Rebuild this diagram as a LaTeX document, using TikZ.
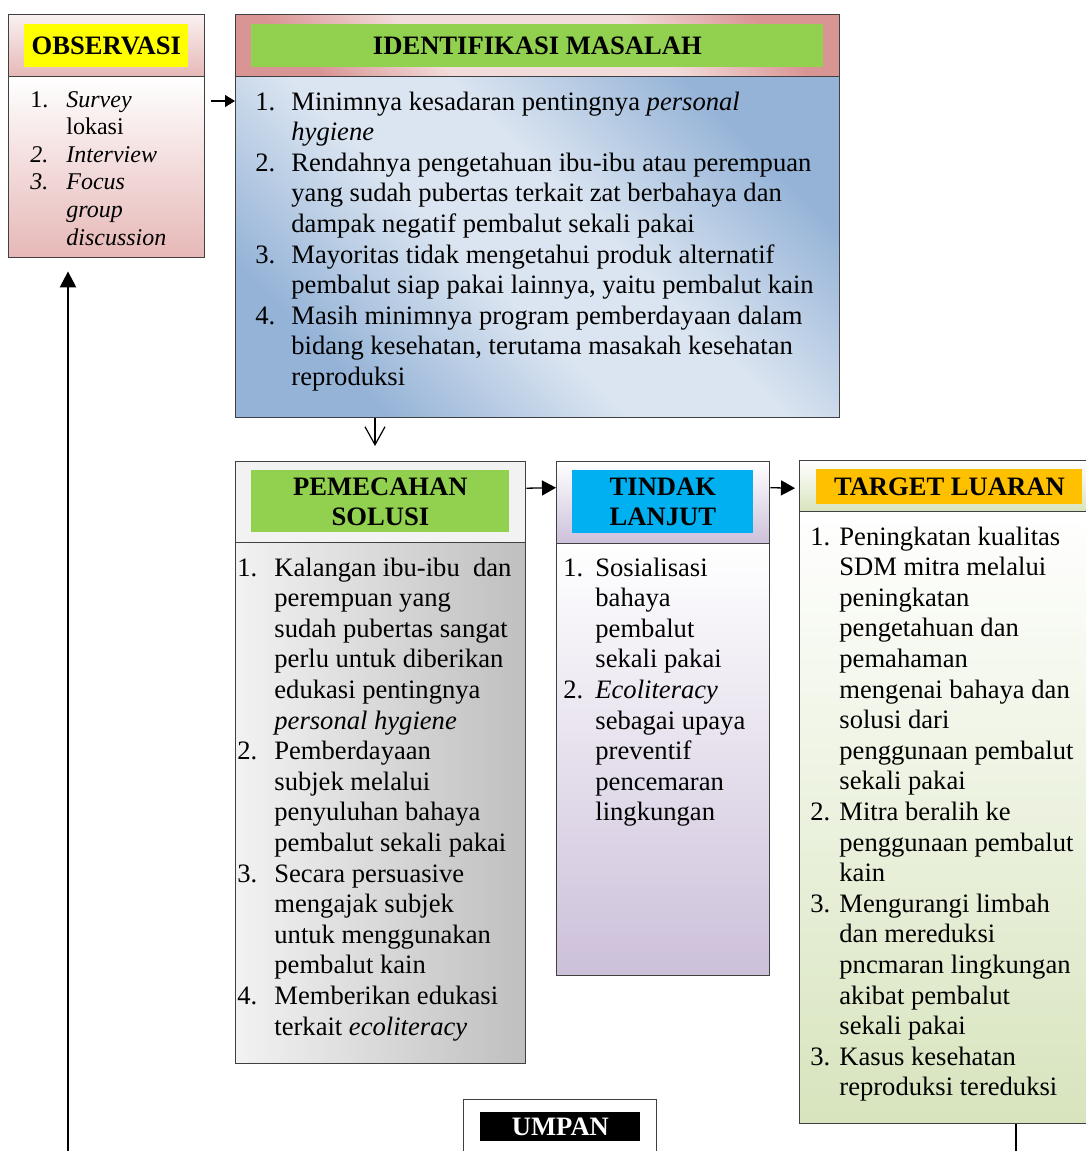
\documentclass[tikz,border=0pt]{standalone}
\usepackage{fontspec}
\setmainfont{Liberation Serif}
\usetikzlibrary{arrows.meta,positioning}

\definecolor{labgreen}{HTML}{92D050}
\definecolor{labyellow}{HTML}{FFFF00}
\definecolor{labcyan}{HTML}{00B0F0}
\definecolor{laborange}{HTML}{FFC000}
\definecolor{pinkdark}{HTML}{E6B8B7}
\definecolor{pinklight}{HTML}{F2DCDB}
\definecolor{rosedark}{HTML}{D99594}
\definecolor{bluedark}{HTML}{95B3D7}
\definecolor{bluelight}{HTML}{DBE5F1}
\definecolor{greylight}{HTML}{F2F2F2}
\definecolor{greydark}{HTML}{BFBFBF}
\definecolor{lavender}{HTML}{CCC0DA}
\definecolor{olivelight}{HTML}{D7E4BD}
\definecolor{framegrey}{HTML}{404040}

% diagonal band shadings
\pgfdeclareverticalshading{bluediag}{100bp}{color(0bp)=(bluedark); color(26bp)=(bluedark);
  color(44bp)=(bluelight); color(56bp)=(bluelight); color(74bp)=(bluedark); color(100bp)=(bluedark)}
\pgfdeclareverticalshading{rosediag}{100bp}{color(0bp)=(rosedark); color(24bp)=(rosedark);
  color(38bp)=(pinklight); color(62bp)=(pinklight); color(76bp)=(rosedark); color(100bp)=(rosedark)}

% numbered list with hanging text
\newcommand{\numlist}[2]{\begin{tabular}[t]{@{}p{#1}@{}l@{}}#2\end{tabular}}

\tikzset{
  panel/.style={draw=framegrey, line width=0.7pt, anchor=north west, inner sep=0pt},
  headtag/.style={anchor=north west, inner sep=0pt, align=center,
    font=\fontsize{13.3}{15}\selectfont\bfseries},
  listtext/.style={anchor=base west, inner sep=0pt,
    font=\fontsize{13.3}{15.3}\selectfont},
  arr/.style={-{Triangle[length=5pt,width=6pt]}, line width=0.6pt},
  arrwide/.style={-{Triangle[length=7pt,width=7.5pt]}, line width=0.65pt},
  openarr/.style={-{Straight Barb[length=9pt,width=10pt]}, line width=0.6pt},
  bigarr/.style={-{Triangle[length=8pt,width=8pt]}, line width=1.2pt},
}

\begin{document}
\begin{tikzpicture}[x=0.5pt,y=-0.5pt]
\useasboundingbox (0,0) rectangle (1086,1151);
\clip (0,0) rectangle (1086,1151);

% observasi
\node[panel, minimum width=98pt, minimum height=31pt,
  top color=pinklight!40!white, bottom color=pinkdark] (obshead) at (8,14) {};
\node[panel, minimum width=98pt, minimum height=90.5pt,
  top color=white, bottom color=pinkdark] (obsbody) at (8,76) {};
\node[headtag, fill=labyellow, minimum width=82pt, minimum height=21.5pt] (obstag) at (24,24) {OBSERVASI};
\node[listtext, font=\fontsize{12}{13.8}\selectfont] (obslist) at (30,107)
  {\numlist{18pt}{1. & \textit{Survey}\\ & lokasi\\ \textit{2.} & \textit{Interview}\\
   \textit{3.} & \textit{Focus}\\ & \textit{group}\\ & \textit{discussion}}};

% identifikasi masalah
\node[panel, minimum width=302pt, minimum height=31pt,
  shading=rosediag, shading angle=-45] (identhead) at (235,14) {};
\node[panel, minimum width=302pt, minimum height=170.5pt,
  shading=bluediag, shading angle=-45] (identbody) at (235,76) {};
\node[headtag, fill=labgreen, minimum width=286pt, minimum height=21.5pt] (identtag) at (251,24) {IDENTIFIKASI MASALAH};
\node[listtext] (identlist) at (255,110)
  {\numlist{18pt}{1. & Minimnya kesadaran pentingnya \textit{personal}\\ & \textit{hygiene}\\
   2. & Rendahnya pengetahuan ibu-ibu atau perempuan\\ & yang sudah pubertas terkait zat berbahaya dan\\
      & dampak negatif pembalut sekali pakai\\
   3. & Mayoritas tidak mengetahui produk alternatif\\ & pembalut siap pakai lainnya, yaitu pembalut kain\\
   4. & Masih minimnya program pemberdayaan dalam\\ & bidang kesehatan, terutama masakah kesehatan\\
      & reproduksi}};

% pemecahan solusi
\node[panel, minimum width=145pt, minimum height=40.5pt, fill=greylight] (pemhead) at (235,461) {};
\node[panel, minimum width=145pt, minimum height=260.5pt,
  left color=greylight, right color=greydark] (pembody) at (235,542) {};
\node[headtag, fill=labgreen, minimum width=129pt, minimum height=31pt] (pemtag) at (251,470) {PEMECAHAN\\SOLUSI};
\node[listtext] (pemlist) at (237,576)
  {\numlist{18.5pt}{1. & Kalangan ibu-ibu\ \ dan\\ & perempuan yang\\ & sudah pubertas sangat\\
      & perlu untuk diberikan\\ & edukasi pentingnya\\ & \textit{personal hygiene}\\
   2. & Pemberdayaan\\ & subjek melalui\\ & penyuluhan bahaya\\ & pembalut sekali pakai\\
   3. & Secara persuasive\\ & mengajak subjek\\ & untuk menggunakan\\ & pembalut kain\\
   4. & Memberikan edukasi\\ & terkait \textit{ecoliteracy}}};

% tindak lanjut
\node[panel, minimum width=106.5pt, minimum height=41pt,
  top color=white, bottom color=lavender] (tindhead) at (556,461) {};
\node[panel, minimum width=106.5pt, minimum height=216pt,
  top color=white, bottom color=lavender] (tindbody) at (556,543) {};
\node[headtag, fill=labcyan, minimum width=90.5pt, minimum height=31.5pt] (tindtag) at (572,470) {TINDAK\\LANJUT};
\node[listtext] (tindlist) at (563,576)
  {\numlist{16pt}{1. & Sosialisasi\\ & bahaya\\ & pembalut\\ & sekali pakai\\
   2. & \textit{Ecoliteracy}\\ & sebagai upaya\\ & preventif\\ & pencemaran\\ & lingkungan}};

% target luaran
\node[panel, minimum width=145pt, minimum height=25.5pt,
  top color=white, bottom color=olivelight] (tarhead) at (799,460) {};
\node[panel, minimum width=145pt, minimum height=306pt,
  top color=white, bottom color=olivelight] (tarbody) at (799,511) {};
\node[headtag, fill=laborange, minimum width=133pt, minimum height=17.5pt] (tartag) at (816,469) {TARGET LUARAN};
\node[listtext] (tarlist) at (810,545)
  {\numlist{14.5pt}{1. & Peningkatan kualitas\\ & SDM mitra melalui\\ & peningkatan\\
      & pengetahuan dan\\ & pemahaman\\ & mengenai bahaya dan\\ & solusi dari\\
      & penggunaan pembalut\\ & sekali pakai\\
   2. & Mitra beralih ke\\ & penggunaan pembalut\\ & kain\\
   3. & Mengurangi limbah\\ & dan mereduksi\\ & pncmaran lingkungan\\ & akibat pembalut\\ & sekali pakai\\
   3. & Kasus kesehatan\\ & reproduksi tereduksi}};

% umpan
\node[panel, minimum width=96.5pt, minimum height=31pt, fill=white] (umpanbox) at (463,1099) {};
\node[headtag, fill=black, text=white, minimum width=80pt, minimum height=14.5pt] (umpantag) at (480,1112) {UMPAN};

% connectors
\coordinate (fbstart) at (68,1165);
\coordinate (tarend) at (1016,1165);
\draw[arr] ([shift={(6,25)}]obsbody.north east) -- ([shift={(0,25)}]identbody.north west);
\draw[openarr] ([shift={(140,0)}]identbody.south west) -- ([shift={(140,-15)}]pemhead.north west);
\draw[arrwide] ([shift={(0,-14)}]pemhead.east) -- ([shift={(0,-15)}]tindhead.west);
\draw[arrwide] ([shift={(0,-15)}]tindhead.east) -- ([shift={(-4,2)}]tarhead.west);
\draw[bigarr] (fbstart) -- ([shift={(60,13)}]obsbody.south west);
\draw[line width=0.6pt] (tarbody.south -| tarend) -- (tarend);
\end{tikzpicture}
\end{document}
